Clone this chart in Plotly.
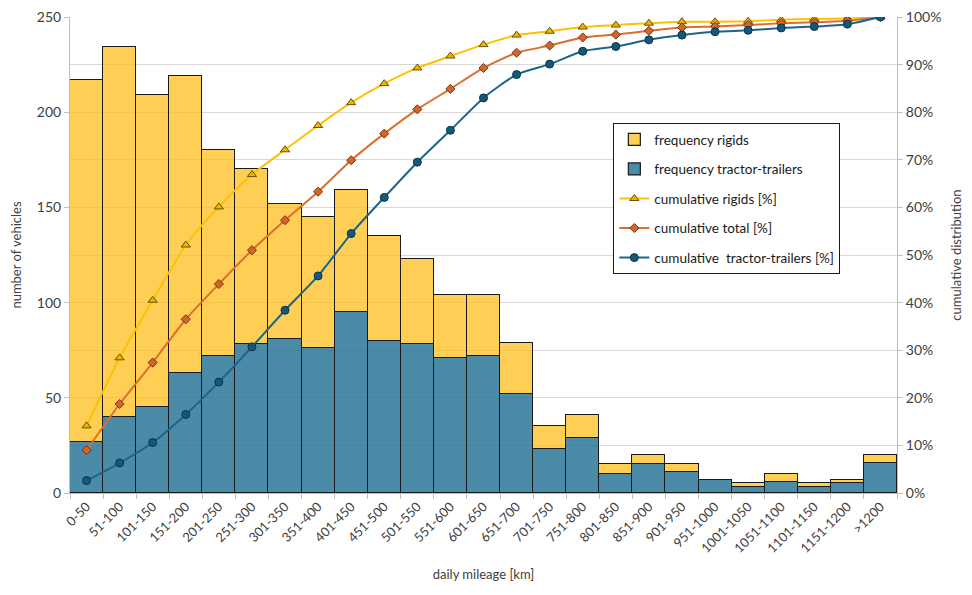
import plotly.graph_objects as go

# daily mileage bins
bins = ["0-50", "51-100", "101-150", "151-200", "201-250", "251-300", "301-350",
        "351-400", "401-450", "451-500", "501-550", "551-600", "601-650", "651-700",
        "701-750", "751-800", "801-850", "851-900", "901-950", "951-1000",
        "1001-1050", "1051-1100", "1101-1150", "1151-1200", ">1200"]

# frequencies (stacked: tractor-trailers at the bottom, rigids on top)
freq_tractor = [27, 40, 45, 63, 72, 78, 81, 76, 95, 80, 78, 71, 72, 52,
                23, 29, 10, 15, 11, 7, 3, 6, 3, 5, 16]
freq_rigids = [190, 194, 164, 156, 108, 92, 71, 69, 64, 55, 45, 33, 32, 27,
               12, 12, 5, 5, 4, 0, 2, 4, 2, 2, 4]

# cumulative distributions [%]
cum_rigids = [14.1, 28.4, 40.5, 52.1, 60.1, 66.9, 72.1, 77.2, 82.0, 86.0, 89.3,
              91.8, 94.2, 96.2, 97.0, 97.9, 98.3, 98.7, 99.0, 99.0, 99.1, 99.4,
              99.6, 99.7, 100.0]
cum_total = [9.0, 18.7, 27.4, 36.5, 43.9, 51.0, 57.3, 63.3, 69.9, 75.5, 80.6,
             84.9, 89.3, 92.5, 94.0, 95.7, 96.3, 97.1, 97.8, 98.0, 98.3, 98.7,
             98.9, 99.2, 100.0]
cum_tractor = [2.6, 6.3, 10.6, 16.5, 23.3, 30.7, 38.4, 45.6, 54.5, 62.1, 69.5,
               76.2, 83.0, 87.9, 90.1, 92.8, 93.8, 95.2, 96.2, 96.9, 97.2, 97.7,
               98.0, 98.5, 100.0]

FONT = "Lato"
TXT = "#404040"

fig = go.Figure()

fig.add_trace(go.Bar(x=bins, y=freq_tractor, name="frequency tractor-trailers",
                     marker=dict(color="rgba(30,110,145,0.8)",
                                 line=dict(color="#1a1a1a", width=1.2)),
                     legendrank=2, legendgroup="b"))
fig.add_trace(go.Bar(x=bins, y=freq_rigids, name="frequency rigids",
                     marker=dict(color="rgba(255,188,20,0.72)",
                                 line=dict(color="#1a1a1a", width=1.2)),
                     legendrank=1, legendgroup="a"))

fig.add_trace(go.Scatter(x=bins, y=cum_rigids, name="cumulative rigids [%]",
                         yaxis="y2", mode="lines+markers",
                         line=dict(color="#FFC000", width=2, shape="spline", smoothing=0.6),
                         marker=dict(symbol="triangle-up", size=8, color="#EBB400",
                                     line=dict(color="#6b5000", width=1)),
                         legendrank=3, legendgroup="c"))
fig.add_trace(go.Scatter(x=bins, y=cum_total, name="cumulative total [%]",
                         yaxis="y2", mode="lines+markers",
                         line=dict(color="#DD6E2E", width=2, shape="spline", smoothing=0.6),
                         marker=dict(symbol="diamond", size=7, color="#D2652A",
                                     line=dict(color="#7a3510", width=1)),
                         legendrank=4, legendgroup="d"))
fig.add_trace(go.Scatter(x=bins, y=cum_tractor, name="cumulative  tractor-trailers [%]",
                         yaxis="y2", mode="lines+markers",
                         line=dict(color="#1B6688", width=2, shape="spline", smoothing=0.6),
                         marker=dict(symbol="circle", size=8, color="#15597A",
                                     line=dict(color="#0a3348", width=1)),
                         legendrank=5, legendgroup="e"))

fig.update_layout(
    width=972, height=595,
    margin=dict(l=62, r=83, t=9, b=110),
    paper_bgcolor="white", plot_bgcolor="white",
    barmode="stack", bargap=0,
    font=dict(family=FONT, size=13, color=TXT),
    showlegend=True,
    legend=dict(x=0.657, y=0.777, xanchor="left", yanchor="top",
                traceorder="grouped",
                bgcolor="white", bordercolor="#1a1a1a", borderwidth=1,
                font=dict(size=13.5, color="#1a1a1a"), tracegroupgap=9,
                itemwidth=30),
    xaxis=dict(title=dict(text="daily mileage [km]", font=dict(size=13, color=TXT)),
               automargin=False, range=[-0.5, len(bins) - 0.5],
               tickangle=-45, tickson="boundaries", ticks="outside", ticklen=5,
               tickcolor="#BFBFBF", showline=True, linecolor="#BFBFBF",
               tickfont=dict(size=13, color=TXT), showgrid=False),
    yaxis=dict(title=dict(text="number of vehicles", font=dict(size=13, color=TXT)),
               automargin=False, ticklabeloverflow="allow",
               range=[0, 250], dtick=50, ticks="outside", ticklen=5,
               tickcolor="#BFBFBF", showline=True, linecolor="#BFBFBF",
               showgrid=True, gridcolor="#D9D9D9", zeroline=False,
               minor=dict(dtick=25, showgrid=True, gridcolor="#D9D9D9"),
               tickfont=dict(size=14, color=TXT)),
    yaxis2=dict(title=dict(text="cumulative distribution", font=dict(size=13, color=TXT),
                           standoff=11),
                automargin=False, ticklabeloverflow="allow",
                overlaying="y", side="right", range=[0, 100], dtick=10,
                ticksuffix="%", ticks="outside", ticklen=5, tickcolor="#BFBFBF",
                showline=True, linecolor="#BFBFBF", showgrid=False, zeroline=False,
                tickfont=dict(size=14, color=TXT)),
)

fig.write_html("out.html")
